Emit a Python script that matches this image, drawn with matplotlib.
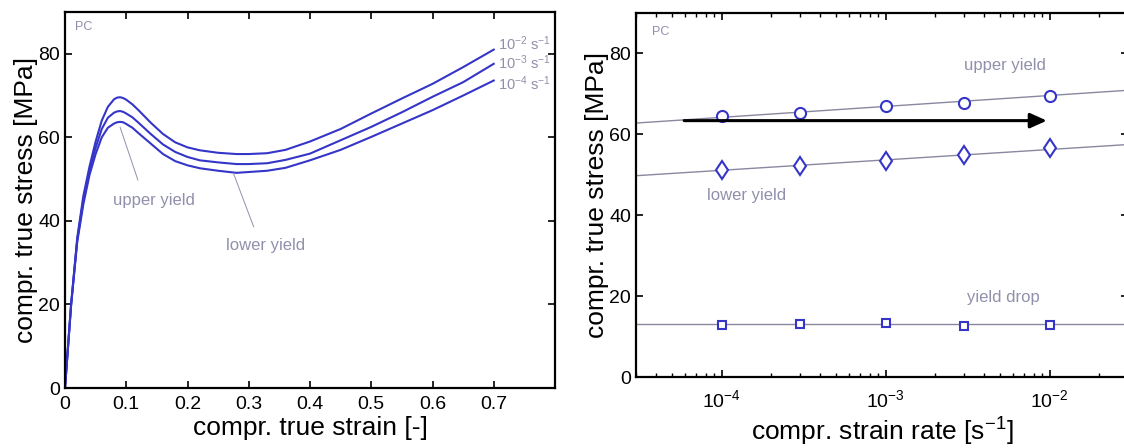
import numpy as np
import matplotlib
matplotlib.use('Agg')
import matplotlib.pyplot as plt
from matplotlib.ticker import LogLocator, NullFormatter, FixedLocator

plt.rcParams['font.family'] = ['Liberation Sans', 'DejaVu Sans']
plt.rcParams['mathtext.default'] = 'regular'

# left panel: stress-strain curves at three strain rates
strain = [0, 0.005, 0.01, 0.02, 0.03, 0.04, 0.05, 0.06, 0.07, 0.08, 0.085, 0.09,
          0.095, 0.10, 0.11, 0.12, 0.14, 0.16, 0.18, 0.20, 0.22, 0.25, 0.28, 0.30,
          0.33, 0.36, 0.40, 0.45, 0.50, 0.55, 0.60, 0.65, 0.70]
stress_1e2 = [0, 10, 20, 36, 46, 53, 59, 64, 67.3, 69.1, 69.5, 69.6, 69.4, 69.0,
              67.9, 66.5, 63.5, 60.8, 58.8, 57.6, 56.9, 56.3, 56.0, 56.0, 56.2,
              57.0, 59.0, 62.0, 65.7, 69.3, 72.8, 76.8, 81.0]
stress_1e3 = [0, 10, 20, 35.5, 45, 52, 57.5, 62, 64.7, 65.9, 66.2, 66.3, 66.1, 65.7,
              64.8, 63.5, 60.8, 58.3, 56.5, 55.3, 54.5, 54.0, 53.6, 53.6, 53.8,
              54.6, 56.1, 59.3, 62.5, 66.0, 69.7, 73.2, 77.6]
stress_1e4 = [0, 10, 20, 35, 44, 51, 56, 60, 62.3, 63.3, 63.6, 63.7, 63.6, 63.2,
              62.3, 61.0, 58.5, 56.0, 54.3, 53.3, 52.6, 52.0, 51.5, 51.7, 52.0,
              52.7, 54.5, 57.0, 60.1, 63.3, 66.5, 70.0, 73.6]
rate_labels = ['10$^{-2}$ s$^{-1}$', '10$^{-3}$ s$^{-1}$', '10$^{-4}$ s$^{-1}$']
rate_label_y = [82.5, 77.8, 72.9]

# right panel: yield stresses vs strain rate
rates = [1e-4, 3e-4, 1e-3, 3e-3, 1e-2]
upper_yield = [64.4, 65.2, 66.8, 67.6, 69.4]
lower_yield = [51.2, 52.0, 53.4, 54.9, 56.6]
yield_drop = [12.8, 13.2, 13.3, 12.7, 12.8]
fit_x = [3e-5, 3e-2]
upper_fit = [62.7, 70.8]
lower_fit = [49.7, 57.4]
drop_fit = [13.0, 13.0]

blue = '#3535c8'
grey = '#9090ac'
fitc = '#8888a0'

fig = plt.figure(figsize=(11.24, 4.48), dpi=100)
W, H = 1124, 448

def style(ax, pad):
    ax.tick_params(direction='in', top=True, right=True, length=5, width=1.2,
                   labelsize=14, colors='black')
    ax.tick_params(axis='x', pad=pad)
    ax.tick_params(which='minor', direction='in', top=True, right=True, length=3, width=1)
    for s in ax.spines.values():
        s.set_linewidth(1.6)

# ---- left
ax1 = fig.add_axes([65 / W, (H - 388) / H, (555 - 65) / W, (388 - 12) / H])
for y in [stress_1e2, stress_1e3, stress_1e4]:
    ax1.plot(strain, y, color=blue, lw=1.5)
ax1.set_xlim(0, 0.8)
ax1.set_ylim(0, 90)
ax1.set_xticks([0, 0.1, 0.2, 0.3, 0.4, 0.5, 0.6, 0.7])
ax1.set_xticklabels(['0', '0.1', '0.2', '0.3', '0.4', '0.5', '0.6', '0.7'])
ax1.set_yticks([0, 20, 40, 60, 80])
style(ax1, 6)
ax1.set_xlabel('compr. true strain [-]', fontsize=19, labelpad=2)
ax1.set_ylabel('compr. true stress [MPa]', fontsize=19, labelpad=0)
ax1.text(0.016, 86.5, 'PC', color=grey, fontsize=9, va='center')
for lab, yy in zip(rate_labels, rate_label_y):
    ax1.text(0.707, yy, lab, color=grey, fontsize=10.5, va='center')
ax1.plot([0.09, 0.119], [62.4, 49.8], color=grey, lw=0.7)
ax1.text(0.146, 45.0, 'upper yield', color=grey, fontsize=12, ha='center', va='center')
ax1.plot([0.275, 0.308], [51.4, 38.6], color=grey, lw=0.7)
ax1.text(0.327, 34.2, 'lower yield', color=grey, fontsize=12, ha='center', va='center')

# ---- right
ax2 = fig.add_axes([636 / W, (H - 377) / H, (1128 - 636) / W, (377 - 12.5) / H])
ax2.set_xscale('log')
ax2.plot(fit_x, upper_fit, color=fitc, lw=1.0)
ax2.plot(fit_x, lower_fit, color=fitc, lw=1.0)
ax2.plot(fit_x, drop_fit, color=fitc, lw=1.0)
ax2.plot(rates, upper_yield, 'o', ms=8, mfc='white', mec=blue, mew=1.5)
ax2.plot(rates, lower_yield, 'd', ms=9.5, mfc='white', mec=blue, mew=1.5)
ax2.plot(rates, yield_drop, 's', ms=6, mfc='white', mec=blue, mew=1.5)
ax2.annotate('', xy=(9.6e-3, 63.3), xytext=(5.9e-5, 63.3),
             arrowprops=dict(arrowstyle='-|>,head_length=1.0,head_width=0.45',
                             color='black', lw=2.2, shrinkA=0, shrinkB=0))
ax2.set_xlim(3e-5, 3e-2)
ax2.set_ylim(0, 90)
ax2.xaxis.set_major_locator(FixedLocator([1e-4, 1e-3, 1e-2]))
ax2.xaxis.set_minor_locator(LogLocator(base=10, subs=np.arange(2, 10)))
ax2.xaxis.set_minor_formatter(NullFormatter())
ax2.set_yticks([0, 20, 40, 60, 80])
style(ax2, 9)
ax2.set_xlabel('compr. strain rate [s$^{-1}$]', fontsize=19, labelpad=3)
ax2.set_ylabel('compr. true stress [MPa]', fontsize=19, labelpad=0)
ax2.text(3.75e-5, 85.2, 'PC', color=grey, fontsize=9, va='center')
ax2.text(5.3e-3, 76.8, 'upper yield', color=grey, fontsize=12, ha='center', va='center')
ax2.text(1.42e-4, 44.8, 'lower yield', color=grey, fontsize=12, ha='center', va='center')
ax2.text(5.2e-3, 19.6, 'yield drop', color=grey, fontsize=12, ha='center', va='center')

fig.savefig('out.png', dpi=100)
